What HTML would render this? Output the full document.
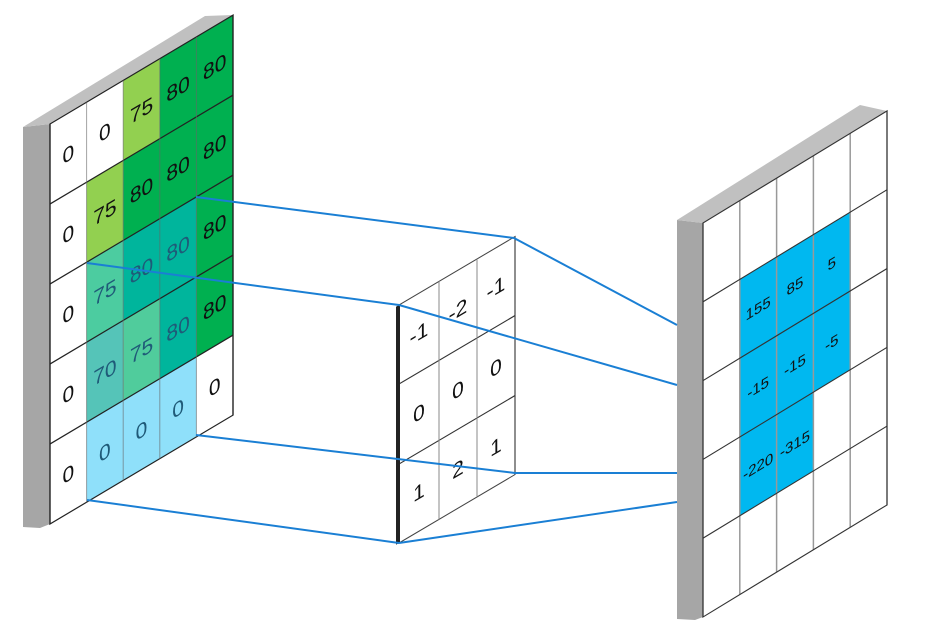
<!DOCTYPE html>
<html><head><meta charset="utf-8"><style>html,body{margin:0;padding:0;background:#fff}svg{display:block}</style></head>
<body>
<svg width="927" height="628" viewBox="0 0 927 628" xmlns="http://www.w3.org/2000/svg" font-family="Liberation Sans, sans-serif">
<!-- LEFT PANEL -->
<polygon points="23,127 50,124 50,524 40,528 23,527" fill="#a6a6a6"/>
<polygon points="23,127 205,16 233,15 50,124" fill="#c0c0c0"/>
<g transform="matrix(1,-0.595,0,1,50,124)" font-size="21" text-anchor="middle">
  <rect x="0" y="0" width="183" height="400" fill="#fff"/>
  <!-- row0 -->
  <rect x="73.2" y="0" width="36.6" height="80" fill="#92d050"/>
  <rect x="109.8" y="0" width="73.2" height="80" fill="#00b050"/>
  <!-- row1 -->
  <rect x="36.6" y="80" width="36.6" height="80" fill="#92d050"/>
  <rect x="73.2" y="80" width="109.8" height="80" fill="#00b050"/>
  <!-- row2 -->
  <rect x="36.6" y="160" width="36.6" height="80" fill="#4ccca0"/>
  <rect x="73.2" y="160" width="73.2" height="80" fill="#00b59c"/>
  <rect x="146.4" y="160" width="36.6" height="160" fill="#00b050"/>
  <!-- row3 -->
  <rect x="36.6" y="240" width="36.6" height="80" fill="#55c4b8"/>
  <rect x="73.2" y="240" width="36.6" height="80" fill="#50cc9c"/>
  <rect x="109.8" y="240" width="36.6" height="80" fill="#00b59c"/>
  <!-- row4 -->
  <rect x="36.6" y="320" width="109.8" height="80" fill="#8fe0fa"/>
  <g stroke="#222" stroke-width="1.4" fill="none">
    <rect x="0" y="0" width="183" height="400"/>
    <line x1="0" y1="80" x2="183" y2="80"/><line x1="0" y1="160" x2="183" y2="160"/>
    <line x1="0" y1="240" x2="183" y2="240"/><line x1="0" y1="320" x2="183" y2="320"/>
  </g>
  <g stroke="#666" stroke-width="1" opacity="0.6">
    <line x1="36.6" y1="0" x2="36.6" y2="400"/><line x1="73.2" y1="0" x2="73.2" y2="400"/>
    <line x1="109.8" y1="0" x2="109.8" y2="400"/><line x1="146.4" y1="0" x2="146.4" y2="400"/>
  </g>
  <g fill="#111">
    <text x="18.3" y="48">0</text><text x="54.9" y="48">0</text><text x="91.5" y="48">75</text><text x="128.1" y="48">80</text><text x="164.7" y="48">80</text>
    <text x="18.3" y="128">0</text><text x="54.9" y="128">75</text><text x="91.5" y="128">80</text><text x="128.1" y="128">80</text><text x="164.7" y="128">80</text>
    <text x="18.3" y="208">0</text><text x="164.7" y="208">80</text>
    <text x="18.3" y="288">0</text><text x="164.7" y="288">80</text>
    <text x="18.3" y="368">0</text><text x="164.7" y="368">0</text>
  </g>
  <g fill="#1f5a78">
    <text x="54.9" y="208">75</text><text x="91.5" y="208">80</text><text x="128.1" y="208">80</text>
    <text x="54.9" y="288">70</text><text x="91.5" y="288">75</text><text x="128.1" y="288">80</text>
    <text x="54.9" y="368">0</text><text x="91.5" y="368">0</text><text x="128.1" y="368">0</text>
  </g>
</g>
<!-- KERNEL -->
<polygon points="399,305 514,237 517,240 402,308" fill="#c8c8c8"/>
<g transform="matrix(1,-0.59,0,1,399,305)" font-size="21" text-anchor="middle">
  <rect x="0" y="0" width="116" height="238" fill="#fff" stroke="#444" stroke-width="1.2"/>
  <g stroke="#333" stroke-width="1.3"><line x1="0" y1="79" x2="116" y2="79"/><line x1="0" y1="159" x2="116" y2="159"/></g>
  <g stroke="#888" stroke-width="1"><line x1="40" y1="0" x2="40" y2="238"/><line x1="78" y1="0" x2="78" y2="238"/></g>
  <line x1="-1" y1="0" x2="-1" y2="238" stroke="#222" stroke-width="4"/>
  <g fill="#111">
    <text x="20" y="47">-1</text><text x="59" y="47">-2</text><text x="97" y="47">-1</text>
    <text x="20" y="127">0</text><text x="59" y="127">0</text><text x="97" y="127">0</text>
    <text x="20" y="206">1</text><text x="59" y="206">2</text><text x="97" y="206">1</text>
  </g>
</g>
<!-- RIGHT PANEL -->
<polygon points="677,220 703,223 703,617 695,620 677,619" fill="#a6a6a6"/>
<polygon points="677,220 860,105 887,111 703,223" fill="#c0c0c0"/>
<g transform="matrix(1,-0.609,0,1,703,223)" font-size="15" text-anchor="middle">
  <rect x="0" y="0" width="184" height="394" fill="#fff"/>
  <rect x="36.8" y="78.8" width="73.6" height="236.4" fill="#00b8f0"/>
  <rect x="110.4" y="78.8" width="36.8" height="157.6" fill="#00b8f0"/>
  <g stroke="#999" stroke-width="1.5">
    <line x1="36.8" y1="0" x2="36.8" y2="394"/><line x1="73.6" y1="0" x2="73.6" y2="394"/>
    <line x1="110.4" y1="0" x2="110.4" y2="394"/><line x1="147.2" y1="0" x2="147.2" y2="394"/>
  </g>
  <g stroke="#333" stroke-width="1.3" fill="none">
    <rect x="0" y="0" width="184" height="394"/>
    <line x1="0" y1="78.8" x2="184" y2="78.8"/><line x1="0" y1="157.6" x2="184" y2="157.6"/>
    <line x1="0" y1="236.4" x2="184" y2="236.4"/><line x1="0" y1="315.2" x2="184" y2="315.2"/>
  </g>
  <g fill="#111">
    <text x="55.2" y="124">155</text><text x="92" y="124">85</text><text x="128.8" y="124">5</text>
    <text x="55.2" y="203">-15</text><text x="92" y="203">-15</text><text x="128.8" y="203">-5</text>
    <text x="55.2" y="282">-220</text><text x="92" y="282">-315</text>
  </g>
</g>
<!-- CONNECTORS -->
<g stroke="#1a7fd4" stroke-width="2" fill="none">
  <line x1="196" y1="197" x2="514" y2="238"/>
  <line x1="87" y1="263" x2="399" y2="305"/>
  <line x1="196" y1="435" x2="515" y2="473"/>
  <line x1="87" y1="500" x2="399" y2="543"/>
  <line x1="514" y1="238" x2="677" y2="325"/>
  <line x1="399" y1="305" x2="677" y2="385"/>
  <line x1="515" y1="473" x2="677" y2="473"/>
  <line x1="399" y1="543" x2="677" y2="502"/>
</g>
</svg>
</body></html>
